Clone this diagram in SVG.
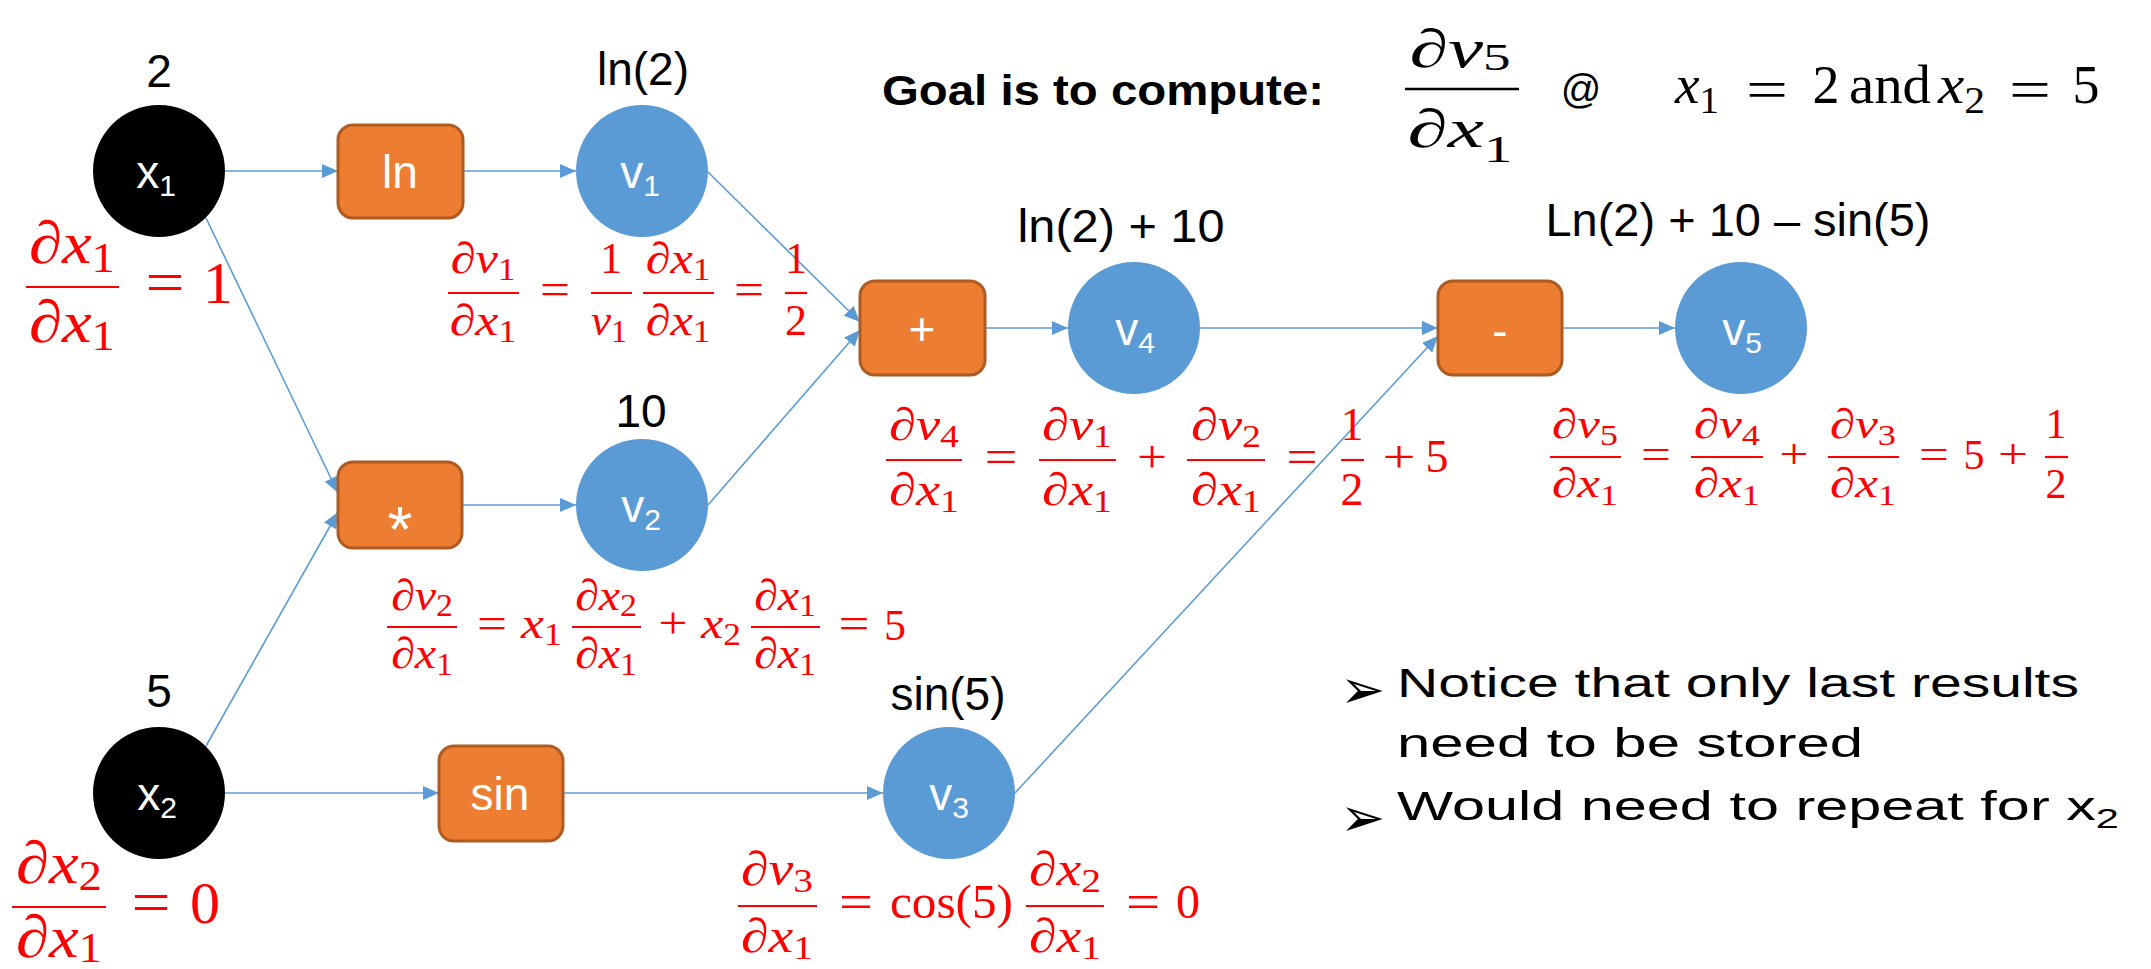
<svg xmlns="http://www.w3.org/2000/svg" width="2151" height="969" viewBox="0 0 2151 969">
  <style>
    .bg { fill: #ffffff; }
    .op { fill: #ED7D31; stroke: #AE5A21; stroke-width: 3; }
    .var { fill: #5B9BD5; }
    .inp { fill: #000000; }
    .lbl { font-family: "Liberation Sans", Arial, sans-serif; font-size: 46px; fill: #ffffff; text-anchor: middle; }
    .star { font-size: 64px; }
    .val { font-family: "Liberation Sans", Arial, sans-serif; font-size: 46px; fill: #000000; text-anchor: middle; }
    .edge { stroke: #5B9BD5; stroke-width: 1.6; fill: none; marker-end: url(#arrow); }
    .m { font-family: "Liberation Serif", "Times New Roman", serif; fill: #ff0000; }
    .mk { font-family: "Liberation Serif", "Times New Roman", serif; fill: #000000; }
    .i { font-style: italic; }
    .c { text-anchor: middle; }
    .bar { stroke: #ff0000; stroke-width: 2.2; }
    .note { font-family: "Liberation Sans", Arial, sans-serif; font-size: 40px; fill: #000000; }
    .blt { font-family: "DejaVu Sans", sans-serif; font-size: 54px; fill: #000000; }
  </style>
  <defs>
    <marker id="arrow" markerUnits="userSpaceOnUse" markerWidth="16" markerHeight="14" refX="16" refY="7" orient="auto">
      <path d="M0,0 L16,7 L0,14 z" fill="#5B9BD5"/>
    </marker>
  </defs>

  <rect class="bg" x="0" y="0" width="2151" height="969"/>

  <!-- connectors -->
  <g id="edges">
    <line class="edge" x1="225" y1="171" x2="338" y2="171"/>
    <line class="edge" x1="463" y1="171" x2="576" y2="171"/>
    <line class="edge" x1="206" y1="218" x2="338" y2="493"/>
    <line class="edge" x1="206" y1="746" x2="338" y2="512"/>
    <line class="edge" x1="462" y1="505" x2="576" y2="505"/>
    <line class="edge" x1="708" y1="172" x2="860" y2="322"/>
    <line class="edge" x1="708" y1="505" x2="860" y2="330"/>
    <line class="edge" x1="985" y1="328" x2="1068" y2="328"/>
    <line class="edge" x1="1200" y1="328" x2="1438" y2="328"/>
    <line class="edge" x1="1015" y1="793" x2="1438" y2="336"/>
    <line class="edge" x1="1562" y1="328" x2="1675" y2="328"/>
    <line class="edge" x1="225" y1="793" x2="439" y2="793"/>
    <line class="edge" x1="563" y1="793" x2="883" y2="793"/>
  </g>

  <!-- input x1 -->
  <g id="x1">
    <text class="val" x="159" y="87">2</text>
    <circle class="inp" cx="159" cy="171" r="66"/>
    <text class="lbl" x="156" y="188">x<tspan font-size="30" dy="8">1</tspan></text>
    <line class="bar" x1="26" y1="287" x2="119" y2="287" stroke-width="3"/>
    <text class="m i c" x="72" y="263" font-size="60" textLength="86" lengthAdjust="spacingAndGlyphs">∂x<tspan font-style="normal" font-size="42" dy="9">1</tspan></text>
    <text class="m i c" x="72" y="342" font-size="60" textLength="86" lengthAdjust="spacingAndGlyphs">∂x<tspan font-style="normal" font-size="42" dy="8">1</tspan></text>
    <text class="m c" x="165" y="302" font-size="60" textLength="39" lengthAdjust="spacingAndGlyphs">=</text>
    <text class="m c" x="218" y="303" font-size="60">1</text>
  </g>

  <!-- input x2 -->
  <g id="x2">
    <text class="val" x="159" y="707">5</text>
    <circle class="inp" cx="159" cy="793" r="66"/>
    <text class="lbl" x="157" y="810">x<tspan font-size="30" dy="8">2</tspan></text>
    <line class="bar" x1="12" y1="907" x2="106" y2="907" stroke-width="3"/>
    <text class="m i c" x="59" y="883" font-size="60" textLength="86" lengthAdjust="spacingAndGlyphs">∂x<tspan font-style="normal" font-size="42" dy="7">2</tspan></text>
    <text class="m i c" x="59" y="957" font-size="60" textLength="86" lengthAdjust="spacingAndGlyphs">∂x<tspan font-style="normal" font-size="42" dy="5">1</tspan></text>
    <text class="m c" x="151" y="922" font-size="60" textLength="39" lengthAdjust="spacingAndGlyphs">=</text>
    <text class="m c" x="205" y="923" font-size="60">0</text>
  </g>

  <!-- ln operator -->
  <g id="op-ln">
    <rect class="op" x="338" y="125" width="125" height="93" rx="15"/>
    <text class="lbl" x="400" y="188">ln</text>
  </g>

  <!-- multiply operator -->
  <g id="op-mul">
    <rect class="op" x="338" y="462" width="124" height="86" rx="15"/>
    <text class="lbl star" x="400" y="552">*</text>
  </g>

  <!-- sin operator -->
  <g id="op-sin">
    <rect class="op" x="439" y="746" width="124" height="95" rx="15"/>
    <text class="lbl" x="500" y="810">sin</text>
  </g>

  <!-- add operator -->
  <g id="op-add">
    <rect class="op" x="860" y="281" width="125" height="94" rx="15"/>
    <text class="lbl" x="922" y="345">+</text>
  </g>

  <!-- subtract operator -->
  <g id="op-sub">
    <rect class="op" x="1438" y="281" width="124" height="94" rx="15"/>
    <text class="lbl" x="1500" y="347">-</text>
  </g>

  <!-- v1 = ln(x1) -->
  <g id="v1">
    <text class="val" x="643" y="85">ln(2)</text>
    <circle class="var" cx="642" cy="171" r="66"/>
    <text class="lbl" x="640" y="188">v<tspan font-size="30" dy="8">1</tspan></text>
    <line class="bar" x1="448" y1="293" x2="519" y2="293"/>
    <text class="m i c" x="483" y="273" font-size="44" textLength="65" lengthAdjust="spacingAndGlyphs">∂v<tspan font-style="normal" font-size="31" dy="7">1</tspan></text>
    <text class="m i c" x="483" y="335" font-size="44" textLength="67" lengthAdjust="spacingAndGlyphs">∂x<tspan font-style="normal" font-size="31" dy="7">1</tspan></text>
    <text class="m c" x="555" y="304" font-size="44" textLength="30" lengthAdjust="spacingAndGlyphs">=</text>
    <line class="bar" x1="591" y1="293" x2="632" y2="293"/>
    <text class="m c" x="611" y="273" font-size="44">1</text>
    <text class="m i c" x="609" y="335" font-size="44" textLength="36" lengthAdjust="spacingAndGlyphs">v<tspan font-style="normal" font-size="31" dy="7">1</tspan></text>
    <line class="bar" x1="643" y1="293" x2="714" y2="293"/>
    <text class="m i c" x="678" y="273" font-size="44" textLength="65" lengthAdjust="spacingAndGlyphs">∂x<tspan font-style="normal" font-size="31" dy="7">1</tspan></text>
    <text class="m i c" x="678" y="335" font-size="44" textLength="65" lengthAdjust="spacingAndGlyphs">∂x<tspan font-style="normal" font-size="31" dy="7">1</tspan></text>
    <text class="m c" x="749" y="304" font-size="44" textLength="30" lengthAdjust="spacingAndGlyphs">=</text>
    <line class="bar" x1="785" y1="293" x2="807" y2="293"/>
    <text class="m c" x="796" y="273" font-size="44">1</text>
    <text class="m c" x="796" y="335" font-size="44">2</text>
  </g>

  <!-- v2 = x1 * x2 -->
  <g id="v2">
    <text class="val" x="641" y="427">10</text>
    <circle class="var" cx="642" cy="505" r="66"/>
    <text class="lbl" x="641" y="522">v<tspan font-size="30" dy="8">2</tspan></text>
    <line class="bar" x1="387" y1="627" x2="457" y2="627"/>
    <text class="m i c" x="422" y="610" font-size="44" textLength="62" lengthAdjust="spacingAndGlyphs">∂v<tspan font-style="normal" font-size="31" dy="6">2</tspan></text>
    <text class="m i c" x="422" y="668" font-size="44" textLength="62" lengthAdjust="spacingAndGlyphs">∂x<tspan font-style="normal" font-size="31" dy="7">1</tspan></text>
    <text class="m c" x="492" y="638" font-size="44" textLength="30" lengthAdjust="spacingAndGlyphs">=</text>
    <text class="m i" x="521" y="638" font-size="44" textLength="41" lengthAdjust="spacingAndGlyphs">x<tspan font-style="normal" font-size="31" dy="7">1</tspan></text>
    <line class="bar" x1="572" y1="627" x2="641" y2="627"/>
    <text class="m i c" x="606" y="610" font-size="44" textLength="62" lengthAdjust="spacingAndGlyphs">∂x<tspan font-style="normal" font-size="31" dy="6">2</tspan></text>
    <text class="m i c" x="606" y="668" font-size="44" textLength="62" lengthAdjust="spacingAndGlyphs">∂x<tspan font-style="normal" font-size="31" dy="7">1</tspan></text>
    <text class="m c" x="673" y="638" font-size="44" textLength="29" lengthAdjust="spacingAndGlyphs">+</text>
    <text class="m i" x="701" y="638" font-size="44" textLength="40" lengthAdjust="spacingAndGlyphs">x<tspan font-style="normal" font-size="31" dy="7">2</tspan></text>
    <line class="bar" x1="751" y1="627" x2="820" y2="627"/>
    <text class="m i c" x="785" y="610" font-size="44" textLength="62" lengthAdjust="spacingAndGlyphs">∂x<tspan font-style="normal" font-size="31" dy="6">1</tspan></text>
    <text class="m i c" x="785" y="668" font-size="44" textLength="62" lengthAdjust="spacingAndGlyphs">∂x<tspan font-style="normal" font-size="31" dy="7">1</tspan></text>
    <text class="m c" x="854" y="638" font-size="44" textLength="31" lengthAdjust="spacingAndGlyphs">=</text>
    <text class="m c" x="895" y="640" font-size="44">5</text>
  </g>

  <!-- v3 = sin(x2) -->
  <g id="v3">
    <text class="val" x="948" y="710">sin(5)</text>
    <circle class="var" cx="949" cy="793" r="66"/>
    <text class="lbl" x="949" y="810">v<tspan font-size="30" dy="8">3</tspan></text>
    <line class="bar" x1="738" y1="906" x2="817" y2="906"/>
    <text class="m i c" x="777" y="885" font-size="48" textLength="72" lengthAdjust="spacingAndGlyphs">∂v<tspan font-style="normal" font-size="34" dy="7">3</tspan></text>
    <text class="m i c" x="777" y="952" font-size="48" textLength="72" lengthAdjust="spacingAndGlyphs">∂x<tspan font-style="normal" font-size="34" dy="7">1</tspan></text>
    <text class="m c" x="856" y="918" font-size="48" textLength="34" lengthAdjust="spacingAndGlyphs">=</text>
    <text class="m" x="890" y="918" font-size="48" textLength="123" lengthAdjust="spacingAndGlyphs">cos(5)</text>
    <line class="bar" x1="1026" y1="906" x2="1104" y2="906"/>
    <text class="m i c" x="1065" y="885" font-size="48" textLength="72" lengthAdjust="spacingAndGlyphs">∂x<tspan font-style="normal" font-size="34" dy="7">2</tspan></text>
    <text class="m i c" x="1065" y="952" font-size="48" textLength="72" lengthAdjust="spacingAndGlyphs">∂x<tspan font-style="normal" font-size="34" dy="7">1</tspan></text>
    <text class="m c" x="1143" y="918" font-size="48" textLength="34" lengthAdjust="spacingAndGlyphs">=</text>
    <text class="m c" x="1188" y="918" font-size="48">0</text>
  </g>

  <!-- v4 = v1 + v2 -->
  <g id="v4">
    <text class="val" x="1121" y="242" textLength="207" lengthAdjust="spacingAndGlyphs">ln(2) + 10</text>
    <circle class="var" cx="1134" cy="328" r="66"/>
    <text class="lbl" x="1135" y="345">v<tspan font-size="30" dy="8">4</tspan></text>
    <line class="bar" x1="886" y1="460" x2="962" y2="460"/>
    <text class="m i c" x="924" y="440" font-size="46" textLength="70" lengthAdjust="spacingAndGlyphs">∂v<tspan font-style="normal" font-size="32" dy="7">4</tspan></text>
    <text class="m i c" x="924" y="505" font-size="46" textLength="70" lengthAdjust="spacingAndGlyphs">∂x<tspan font-style="normal" font-size="32" dy="7">1</tspan></text>
    <text class="m c" x="1001" y="472" font-size="46" textLength="33" lengthAdjust="spacingAndGlyphs">=</text>
    <line class="bar" x1="1039" y1="460" x2="1116" y2="460"/>
    <text class="m i c" x="1077" y="440" font-size="46" textLength="70" lengthAdjust="spacingAndGlyphs">∂v<tspan font-style="normal" font-size="32" dy="7">1</tspan></text>
    <text class="m i c" x="1077" y="505" font-size="46" textLength="70" lengthAdjust="spacingAndGlyphs">∂x<tspan font-style="normal" font-size="32" dy="7">1</tspan></text>
    <text class="m c" x="1152" y="472" font-size="46" textLength="30" lengthAdjust="spacingAndGlyphs">+</text>
    <line class="bar" x1="1187" y1="460" x2="1265" y2="460"/>
    <text class="m i c" x="1226" y="440" font-size="46" textLength="70" lengthAdjust="spacingAndGlyphs">∂v<tspan font-style="normal" font-size="32" dy="7">2</tspan></text>
    <text class="m i c" x="1226" y="505" font-size="46" textLength="70" lengthAdjust="spacingAndGlyphs">∂x<tspan font-style="normal" font-size="32" dy="7">1</tspan></text>
    <text class="m c" x="1302" y="472" font-size="46" textLength="31" lengthAdjust="spacingAndGlyphs">=</text>
    <line class="bar" x1="1341" y1="460" x2="1364" y2="460"/>
    <text class="m c" x="1352" y="440" font-size="46">1</text>
    <text class="m c" x="1352" y="505" font-size="46">2</text>
    <text class="m c" x="1399" y="472" font-size="46" textLength="33" lengthAdjust="spacingAndGlyphs">+</text>
    <text class="m c" x="1437" y="472" font-size="46">5</text>
  </g>

  <!-- v5 = v4 - v3 -->
  <g id="v5">
    <text class="val" x="1738" y="236" textLength="385" lengthAdjust="spacingAndGlyphs">Ln(2) + 10 – sin(5)</text>
    <circle class="var" cx="1741" cy="328" r="66"/>
    <text class="lbl" x="1742" y="345">v<tspan font-size="30" dy="8">5</tspan></text>
    <line class="bar" x1="1550" y1="457" x2="1621" y2="457"/>
    <text class="m i c" x="1585" y="438" font-size="42" textLength="66" lengthAdjust="spacingAndGlyphs">∂v<tspan font-style="normal" font-size="30" dy="7">5</tspan></text>
    <text class="m i c" x="1585" y="497" font-size="42" textLength="66" lengthAdjust="spacingAndGlyphs">∂x<tspan font-style="normal" font-size="30" dy="8">1</tspan></text>
    <text class="m c" x="1656" y="468" font-size="42" textLength="30" lengthAdjust="spacingAndGlyphs">=</text>
    <line class="bar" x1="1691" y1="457" x2="1763" y2="457"/>
    <text class="m i c" x="1727" y="438" font-size="42" textLength="66" lengthAdjust="spacingAndGlyphs">∂v<tspan font-style="normal" font-size="30" dy="7">4</tspan></text>
    <text class="m i c" x="1727" y="497" font-size="42" textLength="66" lengthAdjust="spacingAndGlyphs">∂x<tspan font-style="normal" font-size="30" dy="8">1</tspan></text>
    <text class="m c" x="1794" y="468" font-size="42" textLength="29" lengthAdjust="spacingAndGlyphs">+</text>
    <line class="bar" x1="1828" y1="457" x2="1899" y2="457"/>
    <text class="m i c" x="1863" y="438" font-size="42" textLength="66" lengthAdjust="spacingAndGlyphs">∂v<tspan font-style="normal" font-size="30" dy="7">3</tspan></text>
    <text class="m i c" x="1863" y="497" font-size="42" textLength="66" lengthAdjust="spacingAndGlyphs">∂x<tspan font-style="normal" font-size="30" dy="8">1</tspan></text>
    <text class="m c" x="1934" y="468" font-size="42" textLength="30" lengthAdjust="spacingAndGlyphs">=</text>
    <text class="m c" x="1974" y="469" font-size="42">5</text>
    <text class="m c" x="2013" y="468" font-size="42" textLength="30" lengthAdjust="spacingAndGlyphs">+</text>
    <line class="bar" x1="2045" y1="457" x2="2068" y2="457"/>
    <text class="m c" x="2056" y="438" font-size="42">1</text>
    <text class="m c" x="2056" y="498" font-size="42">2</text>
  </g>

  <!-- goal statement -->
  <g id="goal">
    <text x="882" y="105" font-family="Liberation Sans, Arial, sans-serif" font-weight="bold" font-size="42" textLength="442" lengthAdjust="spacingAndGlyphs">Goal is to compute:</text>
    <line x1="1405" y1="89" x2="1519" y2="89" stroke="#000000" stroke-width="2.6"/>
    <text class="mk i c" x="1460" y="67" font-size="54" textLength="101" lengthAdjust="spacingAndGlyphs">∂v<tspan font-style="normal" font-size="38" dy="3">5</tspan></text>
    <text class="mk i c" x="1460" y="147" font-size="54" textLength="105" lengthAdjust="spacingAndGlyphs">∂x<tspan font-style="normal" font-size="38" dy="15">1</tspan></text>
    <text x="1581" y="103" font-family="Liberation Sans, Arial, sans-serif" font-size="40" text-anchor="middle">@</text>
    <text class="mk i" x="1675" y="103" font-size="54" textLength="44" lengthAdjust="spacingAndGlyphs">x<tspan font-style="normal" font-size="38" dy="10">1</tspan></text>
    <text class="mk c" x="1767" y="108" font-size="54" textLength="42" lengthAdjust="spacingAndGlyphs">=</text>
    <text class="mk c" x="1826" y="103" font-size="54">2</text>
    <text class="mk" x="1849" y="103" font-size="54" textLength="82" lengthAdjust="spacingAndGlyphs">and</text>
    <text class="mk i" x="1938" y="103" font-size="54" textLength="47" lengthAdjust="spacingAndGlyphs">x<tspan font-style="normal" font-size="38" dy="10">2</tspan></text>
    <text class="mk c" x="2030" y="108" font-size="54" textLength="42" lengthAdjust="spacingAndGlyphs">=</text>
    <text class="mk c" x="2086" y="103" font-size="54">5</text>
  </g>

  <!-- notes -->
  <g id="notes">
    <text class="blt" x="1340" y="708">➢</text>
    <text class="note" x="1397" y="697" textLength="682" lengthAdjust="spacingAndGlyphs">Notice that only last results</text>
    <text class="note" x="1397" y="757" textLength="466" lengthAdjust="spacingAndGlyphs">need to be stored</text>
    <text class="blt" x="1340" y="836">➢</text>
    <text class="note" x="1397" y="820" textLength="722" lengthAdjust="spacingAndGlyphs">Would need to repeat for x<tspan font-size="28" dy="8">2</tspan></text>
  </g>
</svg>
